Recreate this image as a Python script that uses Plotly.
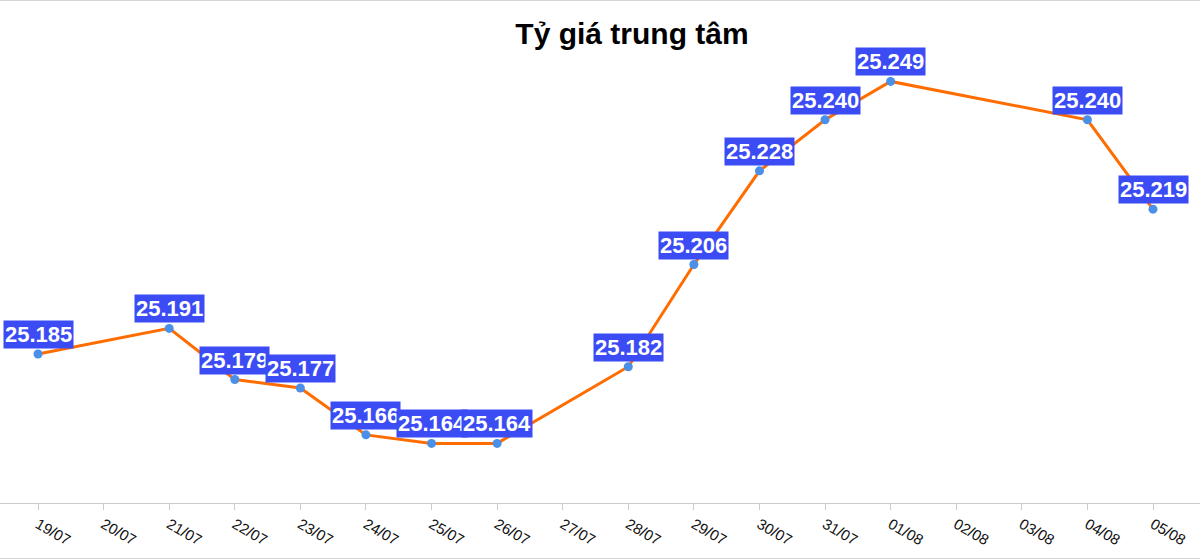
import plotly.graph_objects as go

dates = ["18/07", "19/07", "20/07", "21/07", "22/07", "23/07", "24/07", "25/07", "26/07",
         "27/07", "28/07", "29/07", "30/07", "31/07", "01/08", "02/08", "03/08", "04/08", "05/08"]
rates = [None, 25.185, None, 25.191, 25.179, 25.177, 25.166, 25.164, 25.164,
         None, 25.182, 25.206, 25.228, 25.240, 25.249, None, None, 25.240, 25.219]
labels = [None, "25.185", None, "25.191", "25.179", "25.177", "25.166", "25.164", "25.164",
          None, "25.182", "25.206", "25.228", "25.240", "25.249", None, None, "25.240", "25.219"]

W, H = 1200, 560
ML, MR, MT, MB = 0, 0, 35, 57

fig = go.Figure()
fig.add_trace(go.Scatter(
    x=dates, y=rates, mode="lines+markers", connectgaps=True,
    line=dict(color="#ff6d00", width=3),
    marker=dict(color="#4a8fe8", size=9),
    hoverinfo="x+y", showlegend=False,
))

for d, v, t in zip(dates, rates, labels):
    if v is None:
        continue
    fig.add_annotation(
        x=d, y=v, xref="x", yref="y", text=t, showarrow=False,
        yanchor="bottom", yshift=5,
        font=dict(family="Arial, Liberation Sans", size=22, color="white", weight="bold"),
        bgcolor="#3b4cf5", borderpad=1,
    )

# light gray frame lines at top and bottom of the page
plot_h = H - MT - MB
fig.add_shape(type="line", xref="paper", yref="paper", x0=0, x1=1,
              y0=1 + (MT - 0.5) / plot_h, y1=1 + (MT - 0.5) / plot_h,
              line=dict(color="#d6d6d6", width=1))
fig.add_shape(type="line", xref="paper", yref="paper", x0=0, x1=1,
              y0=-(MB - 1.5) / plot_h, y1=-(MB - 1.5) / plot_h,
              line=dict(color="#d6d6d6", width=1))

fig.update_layout(
    width=W, height=H,
    margin=dict(l=ML, r=MR, t=MT, b=MB),
    paper_bgcolor="white", plot_bgcolor="white",
    title=dict(text="<b>Tỷ giá trung tâm</b>", x=632 / W, xanchor="center",
               y=1 - 33 / H, yanchor="middle",
               font=dict(family="Arial, Liberation Sans", size=30, color="black")),
    xaxis=dict(type="category", categoryorder="array", categoryarray=dates,
               range=[0.4206, 18.7166], showgrid=False, zeroline=False,
               showline=True, linecolor="#cccccc", linewidth=1,
               ticks="outside", ticklen=6, tickcolor="#cccccc",
               tickangle=30,
               tickfont=dict(family="Arial, Liberation Sans", size=15, color="#111111")),
    yaxis=dict(range=[25.15, 25.2599], visible=False, showgrid=False, zeroline=False),
)

fig.write_html("out.html", config={"displayModeBar": False},
               post_script="document.body.style.margin='0';")
